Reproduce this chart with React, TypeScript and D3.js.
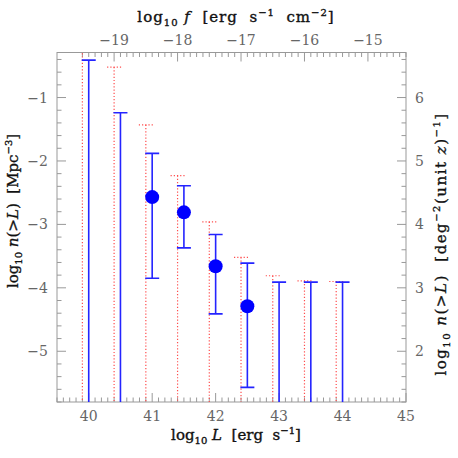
import React, { useEffect, useRef } from 'react';
import * as d3 from 'd3';

// luminosity bins (blue = measured, red dotted = shifted limits)
const binL = [40, 40.5, 41, 41.5, 42, 42.5, 43, 43.5, 44];
const blueHi = [-0.41, -1.24, -1.88, -2.39, -3.16, -3.61, -3.91, -3.91, -3.91];
const blueLo = [-6, -6, -3.85, -3.37, -4.41, -5.57, -6, -6, -6];
const redL = [39.9, 40.4, 40.9, 41.4, 41.9, 42.4, 42.9, 43.4, 43.9];
const redHi = [-0.2, -0.52, -1.43, -2.23, -2.96, -3.52, -3.81, -3.89, -3.9];
const pointL = [41, 41.5, 42, 42.5];
const pointN = [-2.57, -2.81, -3.66, -4.29];
const bottomTicks = [40, 41, 42, 43, 44, 45];
const topTicks = [-19, -18, -17, -16, -15];
const leftTicks = [-1, -2, -3, -4, -5];
const rightTicks = [6, 5, 4, 3, 2];
const fluxOffset = 59.4;
const areaOffset = 7;

const App = () => {
  const svgRef = useRef<SVGSVGElement>(null);

  useEffect(() => {
    const svg = d3.select(svgRef.current);
    svg.selectAll('*').remove();

    const left = 57, right = 406, top = 52.5, bottom = 402;
    const x = d3.scaleLinear().domain([39.5, 45]).range([left, right]);
    const y = d3.scaleLinear().domain([-5.8, -0.29]).range([bottom, top]);
    const serif = "'DejaVu Serif', 'Liberation Serif', serif";
    const frameCol = '#999';
    const tickCol = '#666';

    svg.append('defs').append('clipPath').attr('id', 'plotclip')
      .append('rect').attr('x', left).attr('y', top)
      .attr('width', right - left).attr('height', bottom - top);

    // frame
    svg.append('rect')
      .attr('x', left).attr('y', top)
      .attr('width', right - left).attr('height', bottom - top)
      .attr('fill', 'none').attr('stroke', frameCol).attr('stroke-width', 1);

    const ticks = svg.append('g').attr('stroke', frameCol).attr('stroke-width', 1);
    const major = 9, minor = 4.5;

    // x minor/major ticks (bottom: L, top: f)
    d3.range(395, 451).forEach(k => {
      const v = k / 10;
      const len = k % 10 === 0 ? major : minor;
      ticks.append('line').attr('x1', x(v)).attr('x2', x(v)).attr('y1', bottom).attr('y2', bottom - len);
    });
    d3.range(-195, -141).forEach(k => {
      const f = k / 10;
      const px = x(f + fluxOffset);
      if (px < left || px > right) return;
      const len = k % 10 === 0 ? major : minor;
      ticks.append('line').attr('x1', px).attr('x2', px).attr('y1', top).attr('y2', top + len);
    });
    // y ticks
    d3.range(-29, -1).forEach(k => {
      const py = y(k / 5);
      if (py < top || py > bottom) return;
      const len = k % 5 === 0 ? major : minor;
      ticks.append('line').attr('x1', left).attr('x2', left + len).attr('y1', py).attr('y2', py);
    });
    d3.range(6, 34).forEach(k => {
      const py = y(k / 5 - areaOffset);
      if (py < top || py > bottom) return;
      const len = k % 5 === 0 ? major : minor;
      ticks.append('line').attr('x1', right).attr('x2', right - len).attr('y1', py).attr('y2', py);
    });

    const lbl = svg.append('g').attr('font-family', serif).attr('font-size', 14).attr('fill', tickCol);
    const fmt = (v: number) => (v < 0 ? '\u2212' + Math.abs(v) : String(v));
    bottomTicks.forEach(v => {
      lbl.append('text').attr('x', x(v)).attr('y', 421).attr('text-anchor', 'middle').text(fmt(v));
    });
    topTicks.forEach(v => {
      lbl.append('text').attr('x', x(v + fluxOffset)).attr('y', 45).attr('text-anchor', 'middle').text(fmt(v));
    });
    leftTicks.forEach(v => {
      lbl.append('text').attr('x', 48).attr('y', y(v) + 5).attr('text-anchor', 'end').text(fmt(v));
    });
    rightTicks.forEach(v => {
      lbl.append('text').attr('x', 415).attr('y', y(v - areaOffset) + 5).attr('text-anchor', 'start').text(fmt(v));
    });

    const plot = svg.append('g').attr('clip-path', 'url(#plotclip)');
    const cap = 7;
    const red = '#ff4d4d';
    const blue = '#2424ff';

    // red dotted limits
    redL.forEach((l, i) => {
      plot.append('line')
        .attr('x1', x(l)).attr('x2', x(l)).attr('y1', y(redHi[i])).attr('y2', bottom + 5)
        .attr('stroke', red).attr('stroke-width', 1.2).attr('stroke-dasharray', '1.2,2');
      plot.append('line')
        .attr('x1', x(l) - cap).attr('x2', x(l) + cap).attr('y1', y(redHi[i])).attr('y2', y(redHi[i]))
        .attr('stroke', red).attr('stroke-width', 1.2).attr('stroke-dasharray', '1.2,2');
    });

    // blue error bars
    binL.forEach((l, i) => {
      plot.append('line')
        .attr('x1', x(l)).attr('x2', x(l)).attr('y1', y(blueHi[i])).attr('y2', y(blueLo[i]))
        .attr('stroke', blue).attr('stroke-width', 1.6);
      plot.append('line')
        .attr('x1', x(l) - cap).attr('x2', x(l) + cap).attr('y1', y(blueHi[i])).attr('y2', y(blueHi[i]))
        .attr('stroke', blue).attr('stroke-width', 1.6);
      if (blueLo[i] > -5.8) {
        plot.append('line')
          .attr('x1', x(l) - cap).attr('x2', x(l) + cap).attr('y1', y(blueLo[i])).attr('y2', y(blueLo[i]))
          .attr('stroke', blue).attr('stroke-width', 1.6);
      }
    });

    plot.selectAll('circle.pt').data(pointL).enter().append('circle')
      .attr('class', 'pt')
      .attr('cx', d => x(d)).attr('cy', (d, i) => y(pointN[i])).attr('r', 7)
      .attr('fill', '#0000ff');

    // axis titles
    const ttl = svg.append('g').attr('font-family', serif).attr('font-size', 15)
      .attr('fill', '#111').attr('stroke', '#111').attr('stroke-width', 0.35);
    const sub = (t: any, s: string) => t.append('tspan').attr('font-size', 10).attr('dy', 4).text(s);
    const sup = (t: any, s: string) => t.append('tspan').attr('font-size', 10).attr('dy', -6).text(s);

    const tb = ttl.append('text').attr('x', 236).attr('y', 440).attr('text-anchor', 'middle')
      .attr('xml:space', 'preserve');
    tb.append('tspan').text('log');
    sub(tb, '10');
    tb.append('tspan').attr('dy', -4).attr('font-style', 'italic').text(' L');
    tb.append('tspan').text('  [erg  s');
    sup(tb, '\u22121');
    tb.append('tspan').attr('dy', 6).text(']');

    const tt = ttl.append('text').attr('x', 236).attr('y', 22).attr('text-anchor', 'middle')
      .attr('xml:space', 'preserve').attr('letter-spacing', 1);
    tt.append('tspan').text('log');
    sub(tt, '10');
    tt.append('tspan').attr('dy', -4).attr('font-style', 'italic').text(' f');
    tt.append('tspan').text('  [erg  s');
    sup(tt, '\u22121');
    tt.append('tspan').attr('dy', 6).text('  cm');
    sup(tt, '\u22122');
    tt.append('tspan').attr('dy', 6).text(']');

    const tl = ttl.append('text').attr('transform', 'translate(18,211) rotate(-90)')
      .attr('text-anchor', 'middle').attr('xml:space', 'preserve');
    tl.append('tspan').text('log');
    sub(tl, '10');
    tl.append('tspan').attr('dy', -4).attr('font-style', 'italic').text(' n');
    tl.append('tspan').text('(>');
    tl.append('tspan').attr('font-style', 'italic').text('L');
    tl.append('tspan').text(')  [Mpc');
    sup(tl, '\u22123');
    tl.append('tspan').attr('dy', 6).text(']');

    const tr = ttl.append('text').attr('transform', 'translate(446,244) rotate(-90)')
      .attr('text-anchor', 'middle').attr('xml:space', 'preserve').attr('letter-spacing', 1.5);
    tr.append('tspan').text('log');
    sub(tr, '10');
    tr.append('tspan').attr('dy', -4).attr('font-style', 'italic').text(' n');
    tr.append('tspan').text('(>');
    tr.append('tspan').attr('font-style', 'italic').text('L');
    tr.append('tspan').text(')  [deg');
    sup(tr, '\u22122');
    tr.append('tspan').attr('dy', 6).text('(unit ');
    tr.append('tspan').attr('font-style', 'italic').text('z');
    tr.append('tspan').text(')');
    sup(tr, '\u22121');
    tr.append('tspan').attr('dy', 6).text(']');
  }, []);

  return (
    <div style={{ position: 'absolute', left: 0, top: 0 }}>
      <svg ref={svgRef} width={458} height={458} style={{ display: 'block', background: '#fff' }} />
    </div>
  );
};

export default App;
